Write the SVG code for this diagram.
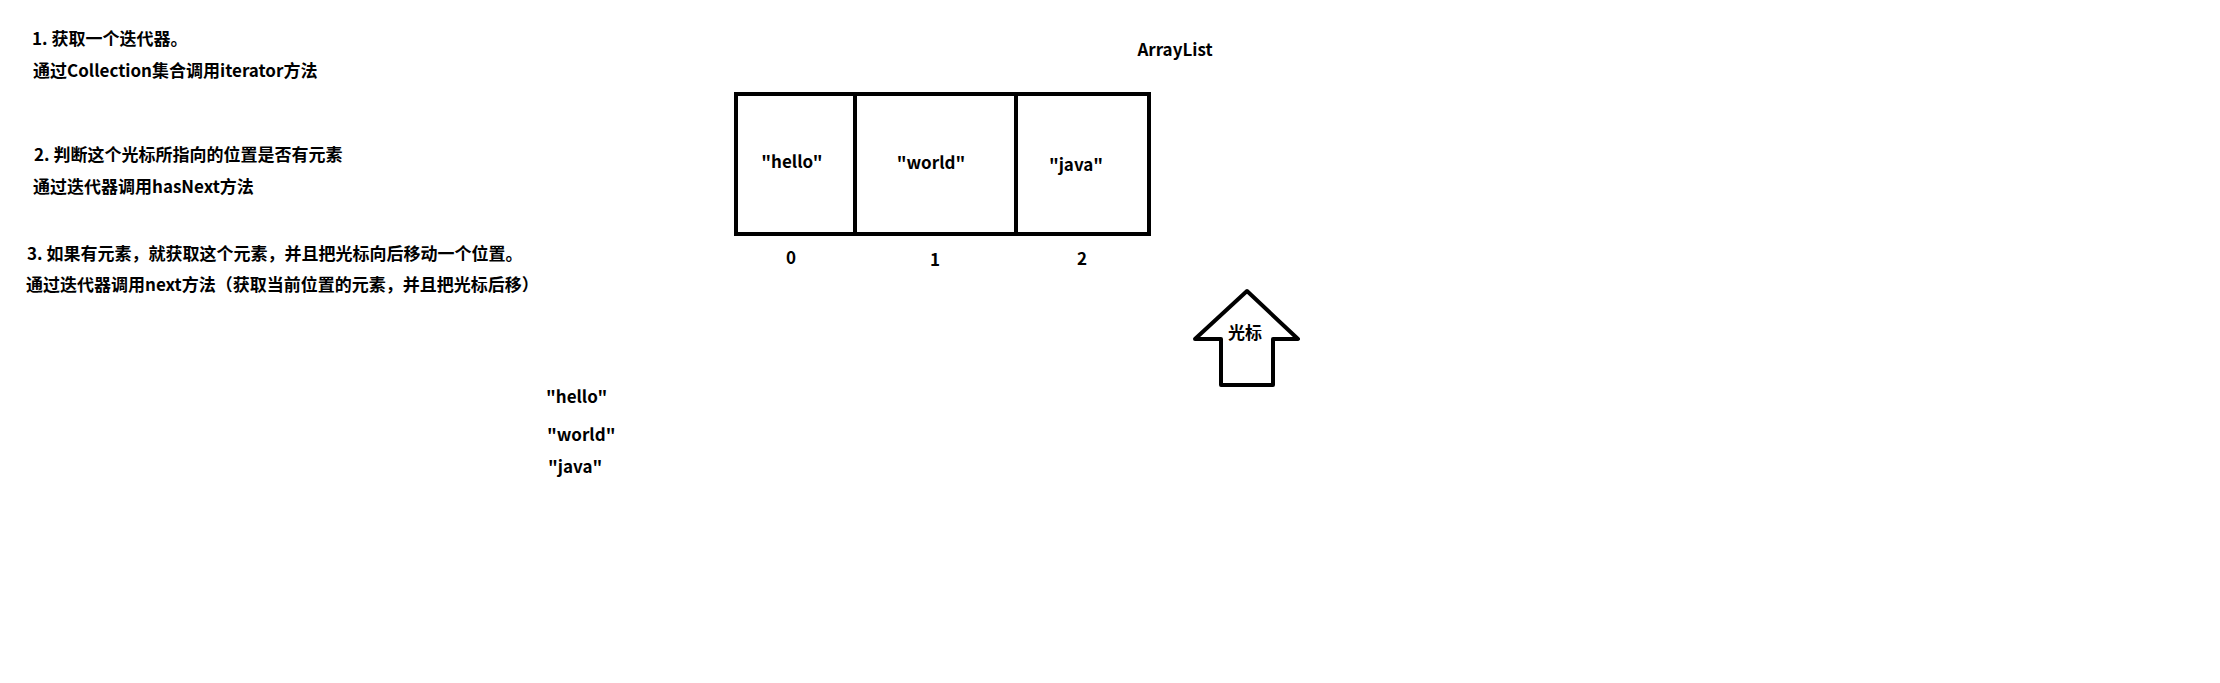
<svg xmlns="http://www.w3.org/2000/svg" width="2220" height="683" viewBox="0 0 2220 683">
<style>
  .t { font-family: "Noto Sans CJK SC", "Microsoft YaHei", "Liberation Sans", sans-serif; font-weight: bold; font-size: 17px; fill: #000; }
  .c { text-anchor: middle; }
  .box { fill: #fff; stroke: #000; stroke-width: 4; }
  .line { stroke: #000; stroke-width: 4; fill: none; }
</style>
<rect x="0" y="0" width="2220" height="683" fill="#fff"/>
<g id="steps">
  <text class="t" x="32" y="45">1. 获取一个迭代器。</text>
  <text class="t" x="33" y="77">通过Collection集合调用iterator方法</text>
  <text class="t" x="34" y="161">2. 判断这个光标所指向的位置是否有元素</text>
  <text class="t" x="33" y="193">通过迭代器调用hasNext方法</text>
  <text class="t" x="27" y="260">3. 如果有元素，就获取这个元素，并且把光标向后移动一个位置。</text>
  <text class="t" x="26" y="291">通过迭代器调用next方法（获取当前位置的元素，并且把光标后移）</text>
</g>
<g id="arraylist">
  <text class="t c" x="1175" y="56">ArrayList</text>
  <rect class="box" x="736" y="94" width="413" height="140"/>
  <line class="line" x1="855" y1="94" x2="855" y2="234"/>
  <line class="line" x1="1016" y1="94" x2="1016" y2="234"/>
  <text class="t c" x="792" y="168">"hello"</text>
  <text class="t c" x="931" y="169">"world"</text>
  <text class="t c" x="1076" y="171">"java"</text>
  <text class="t c" x="791" y="264">0</text>
  <text class="t c" x="935" y="266">1</text>
  <text class="t c" x="1082" y="265">2</text>
</g>
<g id="cursor">
  <polygon points="1247,291 1298,339 1273,339 1273,385 1221,385 1221,339 1195,339" fill="#fff" stroke="#000" stroke-width="4" stroke-linejoin="round"/>
  <text class="t c" x="1245" y="339">光标</text>
</g>
<g id="output">
  <text class="t" x="546" y="403">"hello"</text>
  <text class="t" x="547" y="441">"world"</text>
  <text class="t" x="548" y="473">"java"</text>
</g>
<g id="connectors"></g>
</svg>
